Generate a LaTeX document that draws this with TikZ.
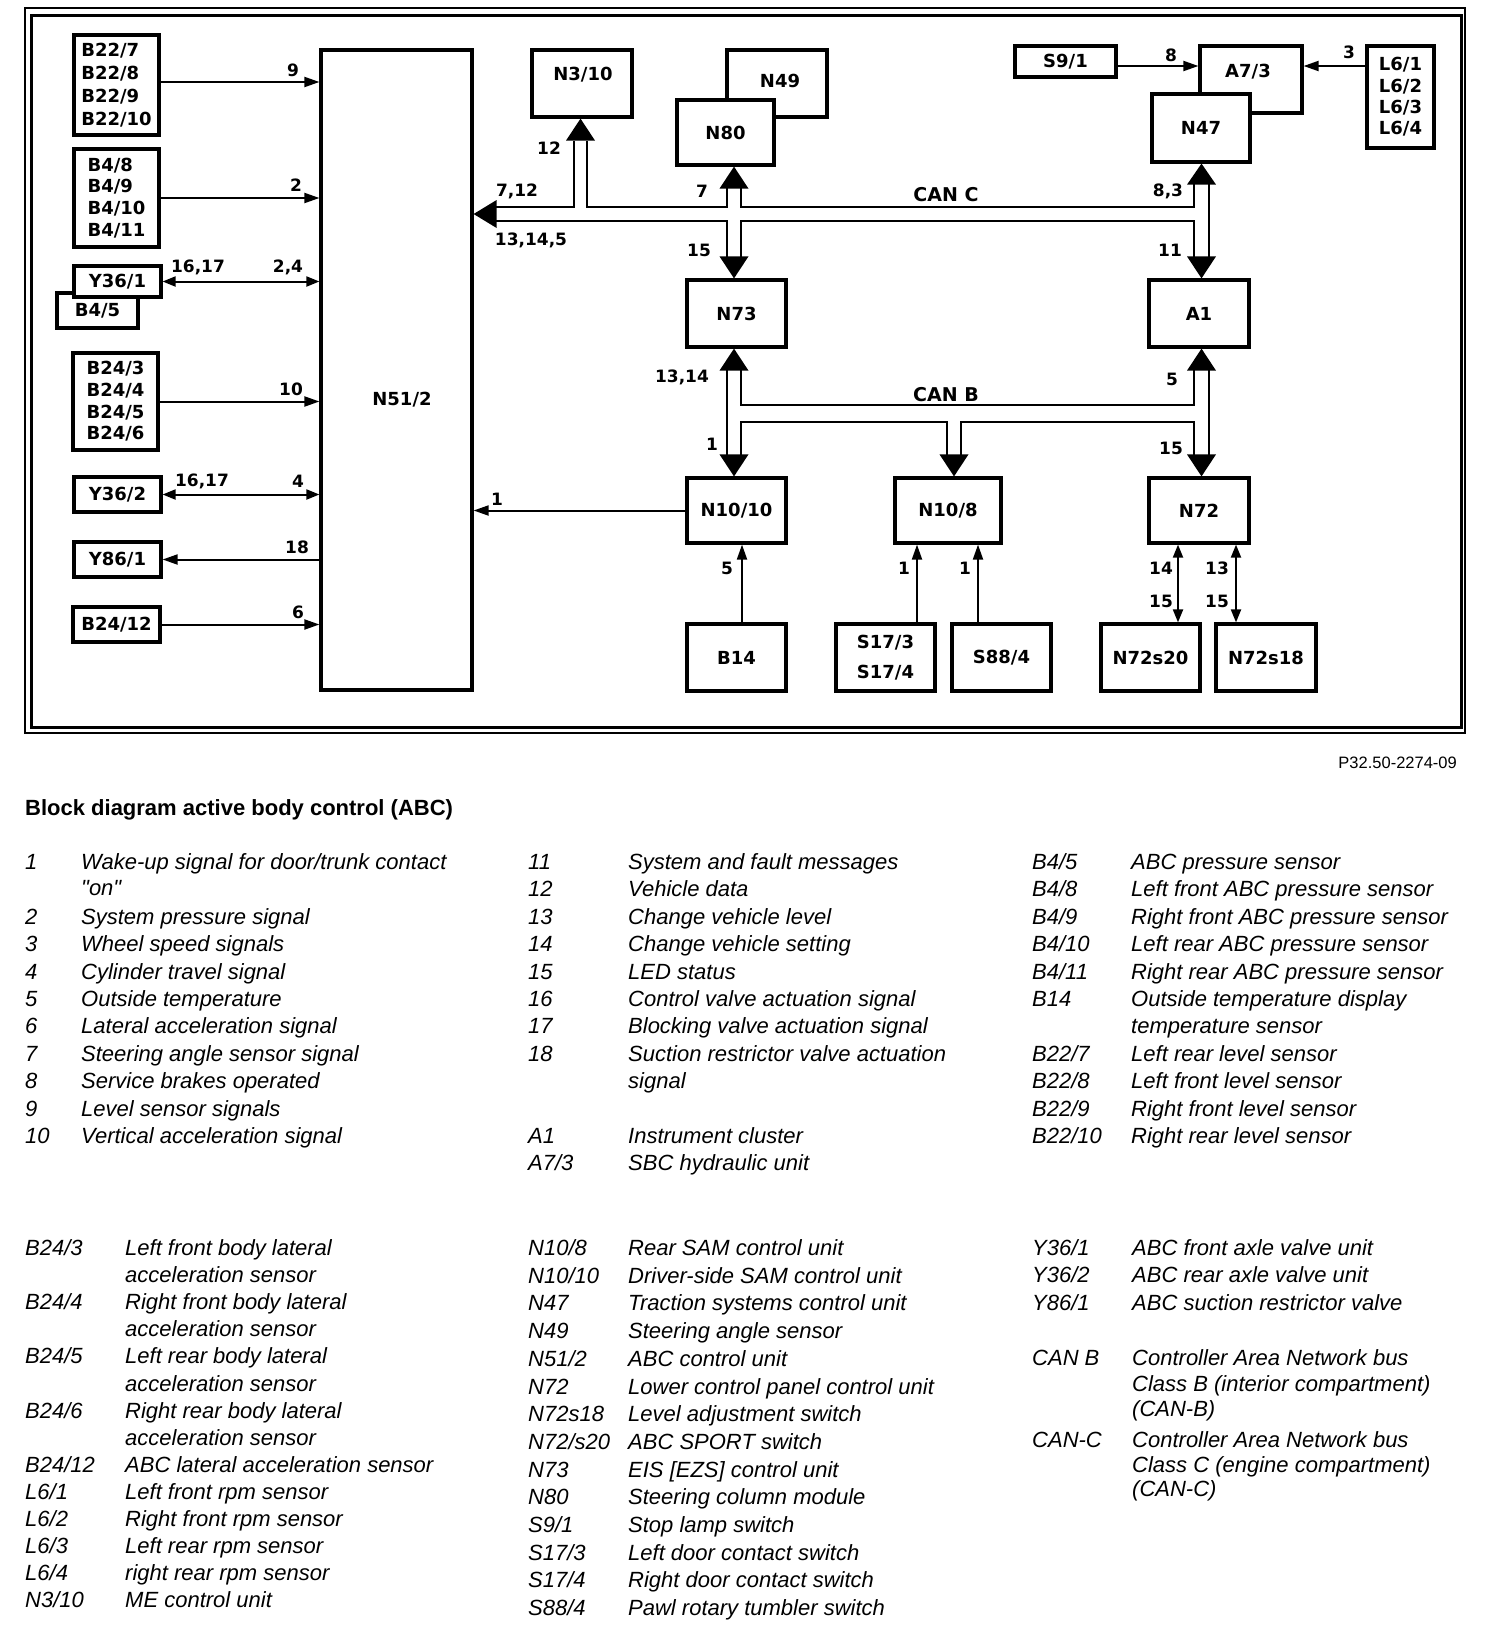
\documentclass[tikz,border=0pt]{standalone}
\usepackage{fontspec}
\setmainfont{Liberation Sans}
\newfontfamily\plainlib{Liberation Sans}[Ligatures=TeXOff]
\newfontfamily\dvs{DejaVu Sans}
\usetikzlibrary{arrows.meta}
\newcommand\bxf{\dvs\bfseries\fontsize{18}{21.7}\selectfont}
\newcommand\nmf{\dvs\bfseries\fontsize{17}{20}\selectfont}
\newcommand\canf{\dvs\bfseries\fontsize{19}{22}\selectfont}
\newcommand\lgf{\itshape\fontsize{22}{26}\selectfont}
\newcounter{lgc}
\newcommand\lgrow[5]{\stepcounter{lgc}%
  \node[leg] (lgn\thelgc) at (#1,#3) {#4};
  \node[leg] (lgt\thelgc) at (#2,#3) {#5};}
\tikzset{
  box/.style={draw, line width=3.2pt, fill=white, inner sep=0pt, font=\bxf, align=center},
  num/.style={font=\nmf, inner sep=0pt},
  canlbl/.style={font=\canf, inner sep=0pt},
  leg/.style={font=\lgf, inner sep=0pt, anchor=base west},
  arr/.style={line width=2pt, -{Triangle[length=15pt,width=10pt]}},
  darr/.style={line width=2pt, {Triangle[length=13pt,width=10pt]}-{Triangle[length=13pt,width=10pt]}},
  bus/.style={line width=2.8pt},
  every label/.style={font=\bxf, inner sep=0pt}
}
\begin{document}
\begin{tikzpicture}[x=1pt,y=-1pt]
\useasboundingbox (0,0) rectangle (1504,1636);
% frame
\draw[line width=1.4pt] (25,8) rectangle (1465,733);
\draw[line width=3pt] (31,15) rectangle (1461,727);

% left column boxes
\node[box, minimum width=85pt, minimum height=100pt, align=left, font={\dvs\bfseries\fontsize{18}{23}\selectfont}] (B22) at (116.5,85) {B22/7\\B22/8\\B22/9\\B22/10};
\node[box, minimum width=85pt, minimum height=98pt, align=left, font={\dvs\bfseries\fontsize{18}{21.7}\selectfont}] (B4) at (116.5,198) {B4/8\\B4/9\\B4/10\\B4/11};
\node[box, minimum width=81pt, minimum height=35pt] (B45) at (97.5,310.5) {B4/5};
\node[box, minimum width=87pt, minimum height=31pt] (Y361) at (117.5,281.5) {Y36/1};
\node[box, minimum width=85pt, minimum height=97pt, align=right, font={\dvs\bfseries\fontsize{18}{21.7}\selectfont}] (B24) at (115.5,401.5) {B24/3\\B24/4\\B24/5\\B24/6};
\node[box, minimum width=87pt, minimum height=35pt] (Y362) at (117.5,494.5) {Y36/2};
\node[box, minimum width=87pt, minimum height=35pt] (Y861) at (117.5,559.5) {Y86/1};
\node[box, minimum width=87pt, minimum height=35pt] (B2412) at (116.5,624.5) {B24/12};

% central unit
\node[box, minimum width=151pt, minimum height=640pt, label={[xshift=5.5pt,yshift=-30pt]center:N51/2}] (N51) at (396.5,370) {};

% top row
\node[box, minimum width=100pt, minimum height=67pt, label={[xshift=1pt,yshift=8.5pt]center:N3/10}] (N310) at (582,83.5) {};
\node[box, minimum width=100pt, minimum height=67pt, label={[xshift=3pt,yshift=2.5pt]center:N49}] (N49) at (777,83.5) {};
\node[box, minimum width=97pt, minimum height=65pt] (N80) at (725.5,132.5) {N80};
\node[box, minimum width=101pt, minimum height=31pt] (S91) at (1065.5,61.5) {S9/1};
\node[box, minimum width=102pt, minimum height=67pt, label={[xshift=-3pt,yshift=7.5pt]center:A7/3}] (A73) at (1251,79.5) {};
\node[box, minimum width=98pt, minimum height=68pt] (N47) at (1201,128) {N47};
\node[box, minimum width=67pt, minimum height=102pt, font={\dvs\bfseries\fontsize{18}{21.3}\selectfont}] (L6) at (1400.5,97) {L6/1\\L6/2\\L6/3\\L6/4};

% middle row
\node[box, minimum width=99pt, minimum height=67pt] (N73) at (736.5,313.5) {N73};
\node[box, minimum width=100pt, minimum height=67pt] (A1) at (1199,313.5) {A1};

% lower row
\node[box, minimum width=99pt, minimum height=65pt] (N1010) at (736.5,510.5) {N10/10};
\node[box, minimum width=106pt, minimum height=65pt] (N108) at (948,510.5) {N10/8};
\node[box, minimum width=100pt, minimum height=65pt] (N72) at (1199,510.5) {N72};

% bottom row
\node[box, minimum width=99pt, minimum height=67pt] (B14) at (736.5,657.5) {B14};
\node[box, minimum width=99pt, minimum height=67pt, font={\dvs\bfseries\fontsize{18}{30}\selectfont}] (S17) at (885.5,657.5) {S17/3\\S17/4};
\node[box, minimum width=99pt, minimum height=67pt] (S88) at (1001.5,657.5) {S88/4};
\node[box, minimum width=99pt, minimum height=67pt] (N72s20) at (1150.5,657.5) {N72s20};
\node[box, minimum width=100pt, minimum height=67pt] (N72s18) at (1266,657.5) {N72s18};

% thin connectors to N51/2
\draw[arr] ([yshift=3pt]B22.east) -- ([yshift=3pt]B22.east -| N51.west);
\draw[arr] (B4.east) -- (B4.east -| N51.west);
\draw[darr] (Y361.east) -- (Y361.east -| N51.west);
\draw[arr] (B24.east) -- (B24.east -| N51.west);
\draw[darr] (Y362.east) -- (Y362.east -| N51.west);
\draw[arr] (N51.west |- Y861.east) -- (Y861.east);
\draw[arr] (B2412.east) -- (B2412.east -| N51.west);
\draw[arr] (N1010.west) -- (N1010.west -| N51.east);

% top right thin connectors
\draw[arr] ([yshift=-4.5pt]S91.east) -- ([yshift=-4.5pt]S91.east -| A73.west);
\draw[arr] (L6.west |- 0,66) -- (A73.east |- 0,66);

% bottom thin connectors
\draw[arr] (742,0 |- B14.north) -- (742,0 |- N1010.south);
\draw[arr] (917,0 |- S17.north) -- (917,0 |- N108.south);
\draw[arr] (978,0 |- S88.north) -- (978,0 |- N108.south);
\draw[darr] (1178,0 |- N72s20.north) -- (1178,0 |- N72.south);
\draw[darr] (1236,0 |- N72s18.north) -- (1236,0 |- N72.south);

% bus arrowheads
\fill (580.5,0 |- N310.south) -- ++(-14.5,22) -- ++(29,0) -- cycle;
\fill (734,0 |- N80.south) -- ++(-14.5,22) -- ++(29,0) -- cycle;
\fill (1201.5,0 |- N47.south) -- ++(-14.5,21) -- ++(29,0) -- cycle;
\fill (734,0 |- N73.north) -- ++(-14.5,-22) -- ++(29,0) -- cycle;
\fill (1201.5,0 |- A1.north) -- ++(-14.5,-22) -- ++(29,0) -- cycle;
\fill (734,0 |- N73.south) -- ++(-14.5,22) -- ++(29,0) -- cycle;
\fill (1201.5,0 |- A1.south) -- ++(-14.5,22) -- ++(29,0) -- cycle;
\fill (734,0 |- N1010.north) -- ++(-14.5,-22) -- ++(29,0) -- cycle;
\fill (954,0 |- N108.north) -- ++(-14.5,-22) -- ++(29,0) -- cycle;
\fill (1201.5,0 |- N72.north) -- ++(-14.5,-22) -- ++(29,0) -- cycle;
\fill (N51.east |- 0,214) -- ++(23,-14) -- ++(0,28) -- cycle;

% CAN C bus
\begin{scope}[bus]
\draw (496,207) -- (574,207) -- (574,141);
\draw (587,141) -- (587,207) -- (727,207) -- (727,188);
\draw (741,188) -- (741,207) -- (1194,207) -- (1194,184);
\draw (496,221) -- (727,221) -- (727,257);
\draw (741,257) -- (741,221) -- (1194,221) -- (1194,257);
\draw (1209,184) -- (1209,257);
% CAN B bus
\draw (727,370) -- (727,455);
\draw (741,370) -- (741,405) -- (1194,405) -- (1194,370);
\draw (741,455) -- (741,422) -- (947,422) -- (947,455);
\draw (961,455) -- (961,422) -- (1194,422) -- (1194,455);
\draw (1209,370) -- (1209,455);
\end{scope}

% number labels
\node[num] (l9) at (293,70) {9};
\node[num] (l2) at (296,185) {2};
\node[num] (l1617a) at (198,267) {16,17};
\node[num] (l24) at (288,267) {2,4};
\node[num] (l10) at (291,389) {10};
\node[num] (l1617b) at (202,481) {16,17};
\node[num] (l4) at (298,481) {4};
\node[num] (l18) at (297,547) {18};
\node[num] (l6) at (298,612) {6};
\node[num] (l1a) at (497,499) {1};
\node[num] (l12) at (549,148) {12};
\node[num] (l712) at (517,191) {7,12};
\node[num] (l13145) at (531,240) {13,14,5};
\node[num] (l7) at (702,191) {7};
\node[canlbl] (canc) at (946,195) {CAN C};
\node[num] (l15a) at (699,250) {15};
\node[num] (l83) at (1168,191) {8,3};
\node[num] (l11) at (1170,250) {11};
\node[num] (l1314) at (682,377) {13,14};
\node[canlbl] (canb) at (946,395) {CAN B};
\node[num] (l5a) at (1172,379) {5};
\node[num] (l1b) at (712,444) {1};
\node[num] (l15b) at (1171,448) {15};
\node[num] (l8) at (1171,55) {8};
\node[num] (l3) at (1349,52) {3};
\node[num] (l5b) at (727,568) {5};
\node[num] (l1c) at (904,568) {1};
\node[num] (l1d) at (965,568) {1};
\node[num] (l14) at (1161,568) {14};
\node[num] (l15c) at (1161,601) {15};
\node[num] (l13) at (1217,568) {13};
\node[num] (l15d) at (1217,601) {15};

% figure number and title
\node[font=\fontsize{16.5}{19}\selectfont, inner sep=0pt, anchor=east] (fig) at (1457,763) {P32.50-2274-09};
\node[font=\bfseries\fontsize{22}{26}\selectfont, inner sep=0pt, anchor=base west] (title) at (25,815) {Block diagram active body control (ABC)};

% legend block 1, column 1
\lgrow{25}{81}{869.5}{1}{Wake-up signal for door/trunk contact}
\lgrow{25}{81}{895.5}{}{{\plainlib\itshape "on"}}
\lgrow{25}{81}{924.3}{2}{System pressure signal}
\lgrow{25}{81}{951.7}{3}{Wheel speed signals}
\lgrow{25}{81}{979.1}{4}{Cylinder travel signal}
\lgrow{25}{81}{1006.5}{5}{Outside temperature}
\lgrow{25}{81}{1033.9}{6}{Lateral acceleration signal}
\lgrow{25}{81}{1061.3}{7}{Steering angle sensor signal}
\lgrow{25}{81}{1088.7}{8}{Service brakes operated}
\lgrow{25}{81}{1116.1}{9}{Level sensor signals}
\lgrow{25}{81}{1143.5}{10}{Vertical acceleration signal}
% column 2
\lgrow{528}{628}{869.5}{11}{System and fault messages}
\lgrow{528}{628}{896.9}{12}{Vehicle data}
\lgrow{528}{628}{924.3}{13}{Change vehicle level}
\lgrow{528}{628}{951.7}{14}{Change vehicle setting}
\lgrow{528}{628}{979.1}{15}{LED status}
\lgrow{528}{628}{1006.5}{16}{Control valve actuation signal}
\lgrow{528}{628}{1033.9}{17}{Blocking valve actuation signal}
\lgrow{528}{628}{1061.3}{18}{Suction restrictor valve actuation}
\lgrow{528}{628}{1088.7}{}{signal}
\lgrow{528}{628}{1143.5}{A1}{Instrument cluster}
\lgrow{528}{628}{1170.9}{A7/3}{SBC hydraulic unit}
% column 3
\lgrow{1032}{1131}{869.5}{B4/5}{ABC pressure sensor}
\lgrow{1032}{1131}{896.9}{B4/8}{Left front ABC pressure sensor}
\lgrow{1032}{1131}{924.3}{B4/9}{Right front ABC pressure sensor}
\lgrow{1032}{1131}{951.7}{B4/10}{Left rear ABC pressure sensor}
\lgrow{1032}{1131}{979.1}{B4/11}{Right rear ABC pressure sensor}
\lgrow{1032}{1131}{1006.5}{B14}{Outside temperature display}
\lgrow{1032}{1131}{1033.9}{}{temperature sensor}
\lgrow{1032}{1131}{1061.3}{B22/7}{Left rear level sensor}
\lgrow{1032}{1131}{1088.7}{B22/8}{Left front level sensor}
\lgrow{1032}{1131}{1116.1}{B22/9}{Right front level sensor}
\lgrow{1032}{1131}{1143.5}{B22/10}{Right rear level sensor}

% legend block 2, column 1
\lgrow{25}{125}{1255.5}{B24/3}{Left front body lateral}
\lgrow{25}{125}{1282.6}{}{acceleration sensor}
\lgrow{25}{125}{1309.7}{B24/4}{Right front body lateral}
\lgrow{25}{125}{1336.8}{}{acceleration sensor}
\lgrow{25}{125}{1363.9}{B24/5}{Left rear body lateral}
\lgrow{25}{125}{1391.0}{}{acceleration sensor}
\lgrow{25}{125}{1418.1}{B24/6}{Right rear body lateral}
\lgrow{25}{125}{1445.2}{}{acceleration sensor}
\lgrow{25}{125}{1472.3}{B24/12}{ABC lateral acceleration sensor}
\lgrow{25}{125}{1499.4}{L6/1}{Left front rpm sensor}
\lgrow{25}{125}{1526.5}{L6/2}{Right front rpm sensor}
\lgrow{25}{125}{1553.6}{L6/3}{Left rear rpm sensor}
\lgrow{25}{125}{1580.7}{L6/4}{right rear rpm sensor}
\lgrow{25}{125}{1607.8}{N3/10}{ME control unit}
% column 2
\lgrow{528}{628}{1255.5}{N10/8}{Rear SAM control unit}
\lgrow{528}{628}{1283.2}{N10/10}{Driver-side SAM control unit}
\lgrow{528}{628}{1310.9}{N47}{Traction systems control unit}
\lgrow{528}{628}{1338.6}{N49}{Steering angle sensor}
\lgrow{528}{628}{1366.3}{N51/2}{ABC control unit}
\lgrow{528}{628}{1394.0}{N72}{Lower control panel control unit}
\lgrow{528}{628}{1421.7}{N72s18}{Level adjustment switch}
\lgrow{528}{628}{1449.4}{N72/s20}{ABC SPORT switch}
\lgrow{528}{628}{1477.1}{N73}{EIS [EZS] control unit}
\lgrow{528}{628}{1504.8}{N80}{Steering column module}
\lgrow{528}{628}{1532.5}{S9/1}{Stop lamp switch}
\lgrow{528}{628}{1560.2}{S17/3}{Left door contact switch}
\lgrow{528}{628}{1587.9}{S17/4}{Right door contact switch}
\lgrow{528}{628}{1615.6}{S88/4}{Pawl rotary tumbler switch}
% column 3
\lgrow{1032}{1132}{1255.5}{Y36/1}{ABC front axle valve unit}
\lgrow{1032}{1132}{1282.5}{Y36/2}{ABC rear axle valve unit}
\lgrow{1032}{1132}{1310.5}{Y86/1}{ABC suction restrictor valve}
\lgrow{1032}{1132}{1365.5}{CAN B}{Controller Area Network bus}
\lgrow{1032}{1132}{1391.5}{}{Class B (interior compartment)}
\lgrow{1032}{1132}{1416.5}{}{(CAN-B)}
\lgrow{1032}{1132}{1447.5}{CAN-C}{Controller Area Network bus}
\lgrow{1032}{1132}{1472.5}{}{Class C (engine compartment)}
\lgrow{1032}{1132}{1496.5}{}{(CAN-C)}
\end{tikzpicture}
\end{document}
